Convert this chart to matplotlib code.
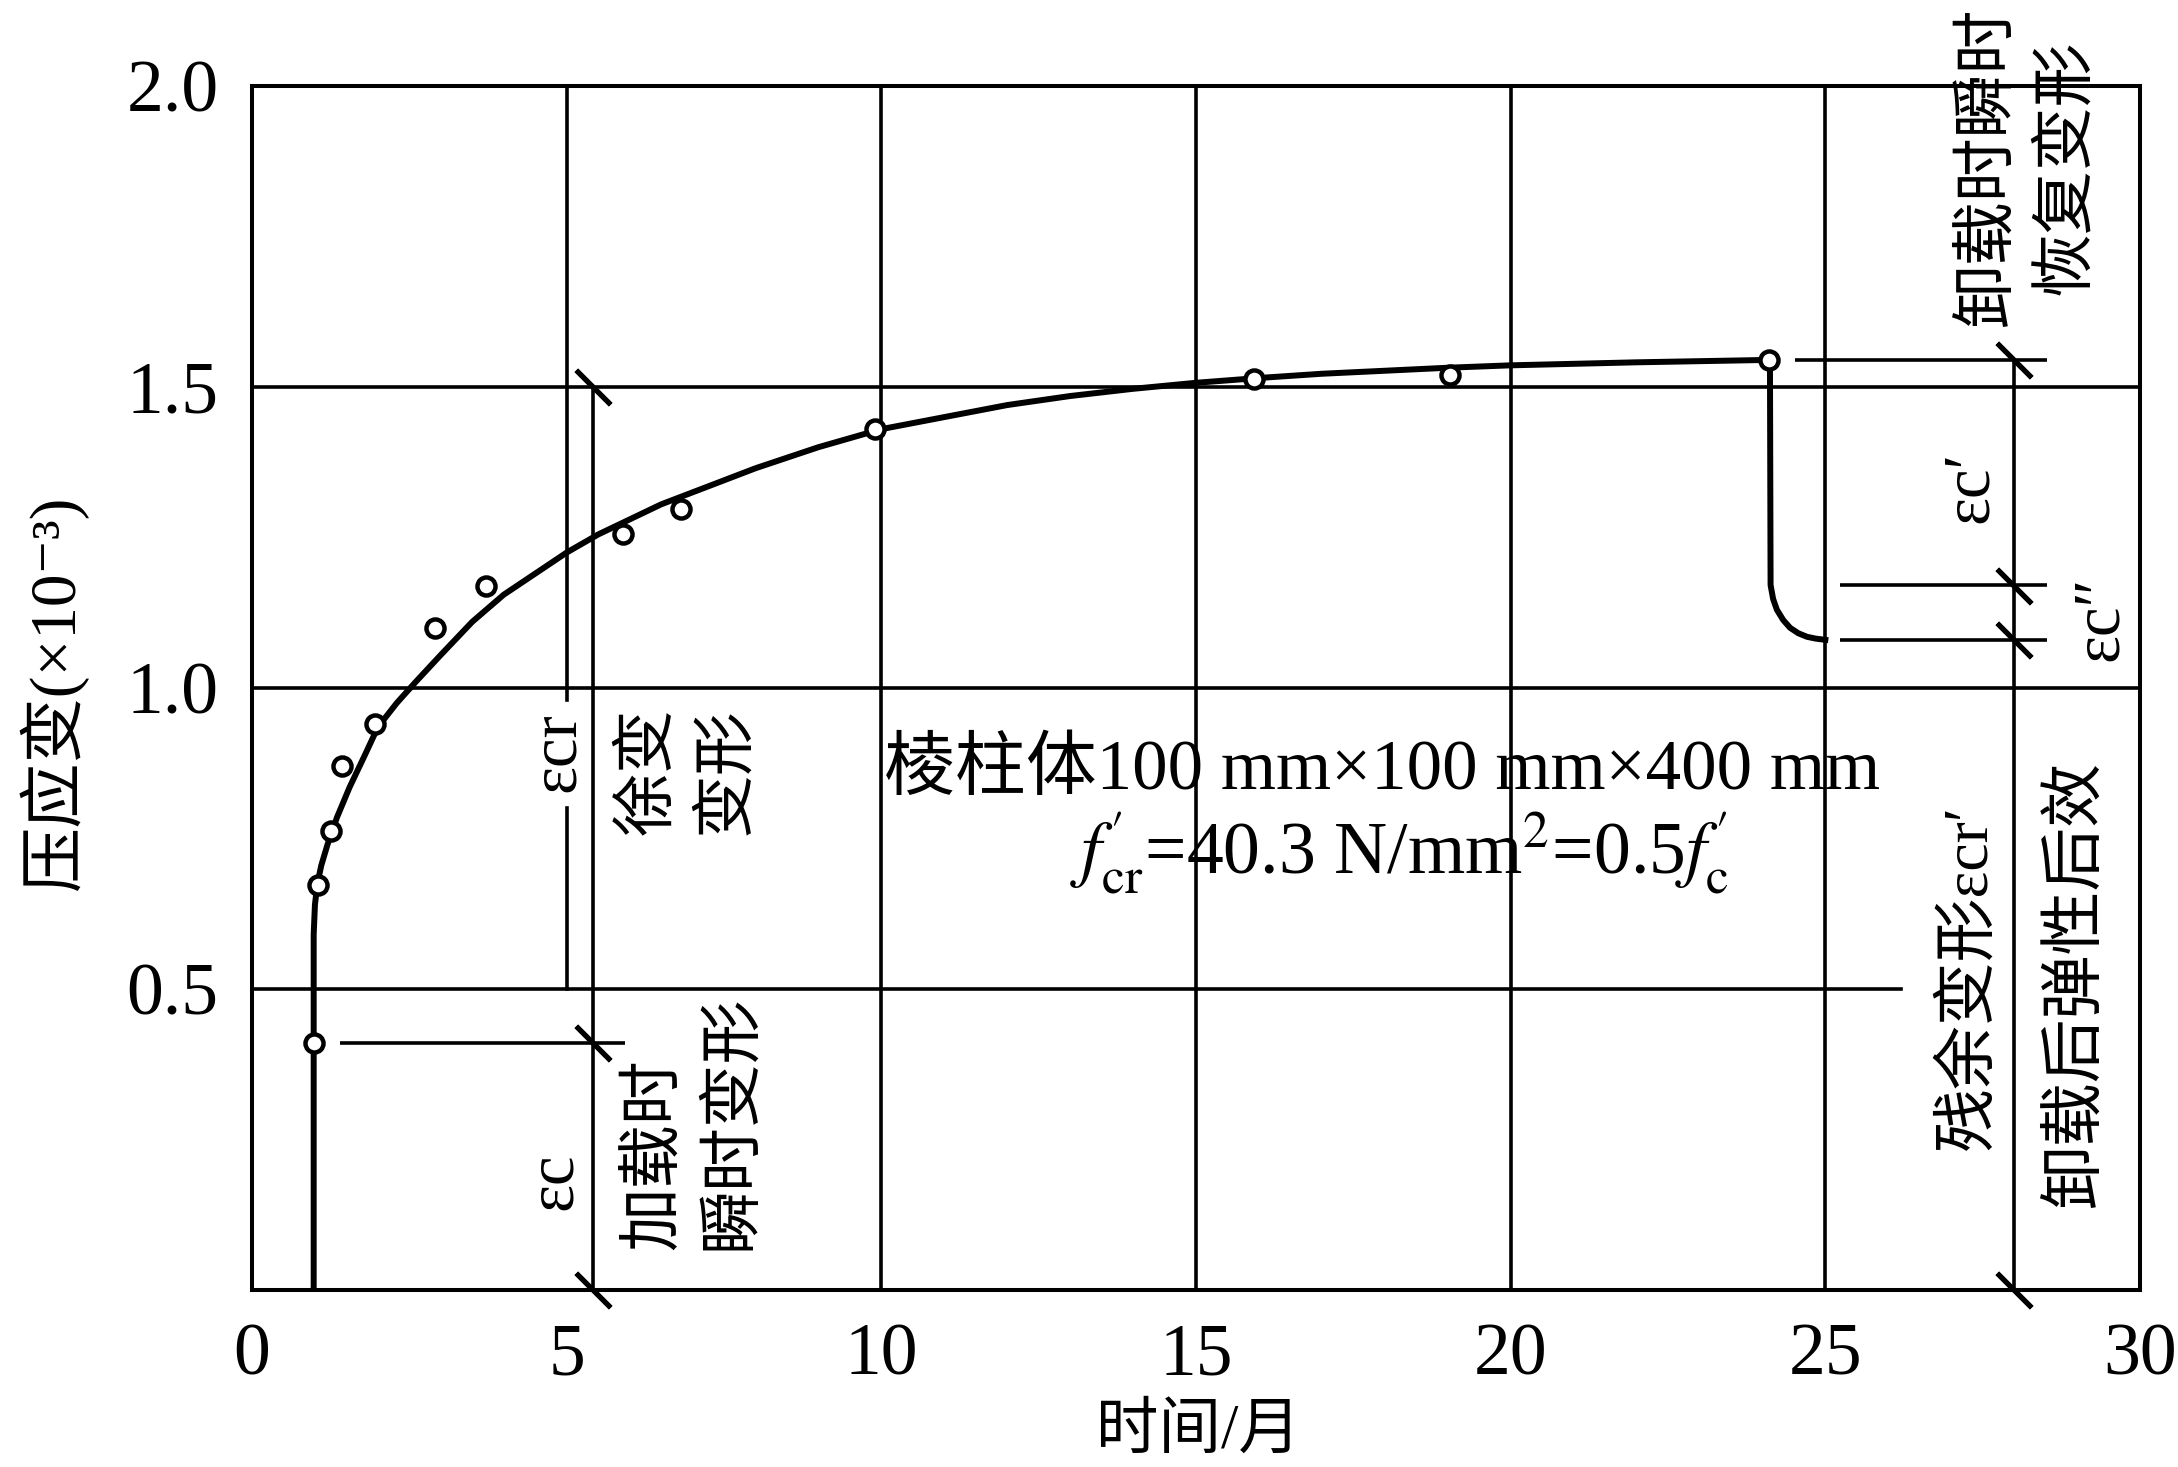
import matplotlib.pyplot as plt

plt.rcParams['font.family'] = ['Liberation Serif', 'Noto Sans CJK SC', 'DejaVu Serif']
plt.rcParams['mathtext.fontset'] = 'stix'

# measured creep strain (x10^-3) vs time (months)
meas_t = [0.98, 1.05, 1.25, 1.43, 1.95, 2.90, 3.72, 5.90, 6.82, 9.90, 15.92, 19.04, 24.10]
meas_eps = [0.41, 0.673, 0.763, 0.871, 0.94, 1.10, 1.17, 1.256, 1.297, 1.43, 1.513, 1.520, 1.545]

# smooth curve under sustained load
load_t = [0.98, 0.98, 1.0, 1.04, 1.1, 1.2, 1.35, 1.55, 1.8, 2.0, 2.3, 2.6, 3.0, 3.5, 4.0,
          4.5, 5.0, 5.5, 6.0, 6.5, 7.0, 8.0, 9.0, 10.0, 11.0, 12.0, 13.0, 14.0, 15.0,
          16.0, 17.0, 18.0, 19.0, 20.0, 22.0, 24.1]
load_eps = [0.0, 0.59, 0.64, 0.675, 0.705, 0.74, 0.785, 0.835, 0.89, 0.935, 0.975, 1.01,
            1.055, 1.11, 1.155, 1.19, 1.225, 1.255, 1.28, 1.305, 1.325, 1.365, 1.40, 1.43,
            1.45, 1.47, 1.485, 1.497, 1.507, 1.515, 1.522, 1.527, 1.532, 1.536, 1.541, 1.545]

# unloading branch (instant + delayed recovery)
unload_t = [24.10, 24.12, 24.13, 24.17, 24.23, 24.33, 24.44, 24.57, 24.71, 24.85, 25.0]
unload_eps = [1.545, 1.545, 1.171, 1.148, 1.130, 1.113, 1.100, 1.091, 1.085, 1.082, 1.080]

x_ticks = [0, 5, 10, 15, 20, 25, 30]
y_ticks = [0.5, 1.0, 1.5, 2.0]
y_tick_labels = ['0.5', '1.0', '1.5', '2.0']
grid_x = [10, 15, 20, 25]
grid_y = [1.0, 1.5]

# dimension lines with tick slashes
left_dim_x = 5.42
left_dim_marks = [0.0, 0.41, 1.5]
right_dim_x = 28.0
right_dim_marks = [0.0, 1.08, 1.17, 1.545]
ext_x0 = [1.40, 24.52, 25.23, 25.23]
ext_x1 = [5.93, 28.52, 28.52, 28.52]
ext_y = [0.41, 1.545, 1.171, 1.080]

fig = plt.figure(figsize=(21.78, 14.67), dpi=100)
ax = fig.add_axes([252 / 2178, 1 - 1290 / 1467, 1888 / 2178, 1204 / 1467])
ax.set_xlim(0, 30)
ax.set_ylim(0, 2.0)

LW = 2.6
for sp in ax.spines.values():
    sp.set_linewidth(2.9)

for gx in grid_x:
    ax.axvline(gx, color='black', lw=LW, zorder=1)
for gy in grid_y:
    ax.axhline(gy, color='black', lw=LW, zorder=1)
ax.plot([0, 26.2], [0.5, 0.5], color='black', lw=LW, zorder=1)
# x=5 line, broken for the label
ax.plot([5, 5], [0.5, 0.80], color='black', lw=LW, zorder=1)
ax.plot([5, 5], [0.98, 2.0], color='black', lw=LW, zorder=1)

# dimension lines
ax.plot([left_dim_x, left_dim_x], [min(left_dim_marks), max(left_dim_marks)],
        color='black', lw=LW, zorder=2)
ax.plot([right_dim_x, right_dim_x], [min(right_dim_marks), max(right_dim_marks)],
        color='black', lw=LW, zorder=2)
ax.plot([left_dim_x] * len(left_dim_marks), left_dim_marks, ls='none',
        marker=(2, 2, 45), ms=35, mew=3.6, color='black', clip_on=False, zorder=3)
ax.plot([right_dim_x] * len(right_dim_marks), right_dim_marks, ls='none',
        marker=(2, 2, 45), ms=35, mew=3.6, color='black', clip_on=False, zorder=3)
ax.hlines(ext_y, ext_x0, ext_x1, color='black', lw=LW, zorder=2)

# curves and points
ax.plot(load_t, load_eps, color='black', lw=4.3, zorder=4, solid_capstyle='butt')
ax.plot(unload_t, unload_eps, color='black', lw=4.3, zorder=4)
ax.plot(meas_t, meas_eps, ls='none', marker='o', ms=13, mew=3.2,
        mfc='white', mec='black', zorder=5)

ax.set_xticks(x_ticks)
ax.set_yticks(y_ticks)
ax.set_yticklabels(y_tick_labels)
ax.tick_params(length=0, labelsize=53, pad=24)

fig.text(53 / 2178, 1 - 692 / 1467, '压应变(×10⁻³)', rotation=90,
         ha='center', va='center', fontsize=47)
fig.text(1198 / 2178, 1 - 1433 / 1467, '时间/月', ha='center', va='center', fontsize=45)

CJK = 46
ax.text(4.85, 0.894, 'εcr', rotation=90, ha='center', va='center', fontsize=48,
        zorder=6)
ax.text(4.80, 0.18, 'εc', rotation=90, ha='center', va='center', fontsize=48)
ax.text(6.94, 0.862, '徐变\n变形', rotation=90, ha='center', va='center',
        fontsize=CJK, linespacing=1.4)
ax.text(7.03, 0.066, '加载时\n瞬时变形', rotation=90, ha='center', va='bottom',
        multialignment='left', fontsize=CJK, linespacing=1.4)
ax.text(28.22, 1.865, '卸载时瞬时\n恢复变形', rotation=90, ha='center', va='center',
        multialignment='center', fontsize=CJK, linespacing=1.4, clip_on=False)
ax.text(27.3, 0.52, '残余变形εcr′', rotation=90, ha='center', va='center', fontsize=CJK)
ax.text(29.0, 0.507, '卸载后弹性后效', rotation=90, ha='center', va='center', fontsize=CJK)
ax.text(27.3, 1.334, 'εc′', rotation=90, ha='center', va='center', fontsize=48)
ax.text(29.37, 1.116, 'εc″', rotation=90, ha='center', va='center', fontsize=48)

ax.text(17.96, 0.862, '棱柱体100 mm×100 mm×400 mm', ha='center', va='center',
        fontsize=51)
ax.text(18.24, 0.724,
        r'$f_{\mathrm{cr}}^{\prime}$=40.3 N/mm$^2$=0.5$f_{\mathrm{c}}^{\prime}$',
        ha='center', va='center', fontsize=53)

fig.savefig('out.png', dpi=100)
